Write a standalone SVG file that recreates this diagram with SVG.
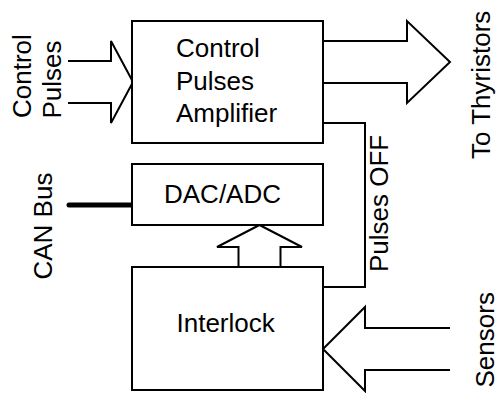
<svg xmlns="http://www.w3.org/2000/svg" width="499" height="393" viewBox="0 0 499 393">
<style>
.box{fill:#fff;stroke:#000;stroke-width:2}
.ln{fill:none;stroke:#000;stroke-width:2;stroke-linejoin:miter}
.bus{fill:none;stroke:#000;stroke-width:5;stroke-linecap:round}
text{font-family:"Liberation Sans",Arial,sans-serif;font-size:26px;fill:#000}
</style>
<rect width="499" height="393" fill="#fff"/>
<g id="connectors">
<path class="ln" d="M68,61 H111 V41 L133,82 L111,123 V103 H68"/>
<path class="ln" d="M323,41 H407 V21 L450,62 L407,103 V83 H323"/>
<path class="ln" d="M323,123 H365 V287 H323"/>
<path class="ln" d="M450,328 H365 V307 L323,349 L365,391 V370 H450"/>
<path class="ln" d="M238.5,267 V247 H217 L259.5,225 L302,247 H280.5 V267"/>
<line class="bus" x1="69" y1="205" x2="131" y2="205"/>
</g>
<g id="amplifier">
<rect class="box" x="132" y="21" width="191" height="122"/>
<text x="176" y="57">Control</text>
<text x="176" y="89.5">Pulses</text>
<text x="176" y="122">Amplifier</text>
</g>
<g id="dacadc">
<rect class="box" x="132" y="164" width="191" height="61"/>
<text x="164" y="203">DAC/ADC</text>
</g>
<g id="interlock">
<rect class="box" x="132" y="267" width="191" height="123"/>
<text x="176.5" y="331.5">Interlock</text>
</g>
<g id="labels">
<text transform="translate(31,118) rotate(-90)">Control</text>
<text transform="translate(61,118.5) rotate(-90)">Pulses</text>
<text transform="translate(51.5,279.5) rotate(-90)">CAN Bus</text>
<text transform="translate(490,159) rotate(-90)">To Thyristors</text>
<text transform="translate(387.5,272) rotate(-90)">Pulses OFF</text>
<text transform="translate(493.5,387.5) rotate(-90)">Sensors</text>
</g>
</svg>
